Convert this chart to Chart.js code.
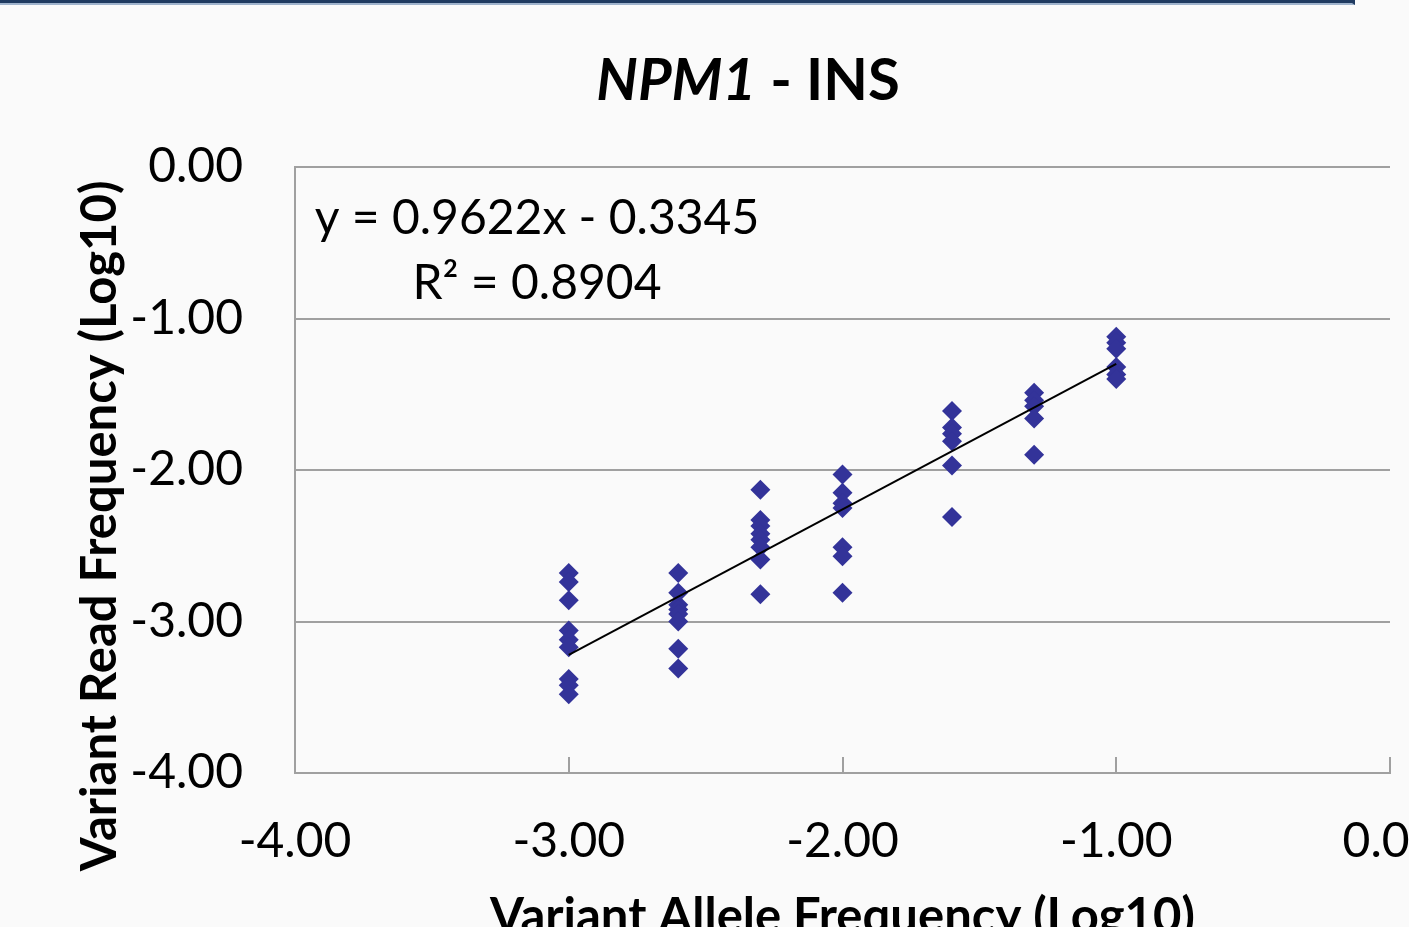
<!DOCTYPE html>
<html>
<head>
<meta charset="utf-8">
<title>NPM1 - INS</title>
<script src="https://cdn.jsdelivr.net/npm/chart.js@4.4.1/dist/chart.umd.min.js"></script>
<style>
  html, body { margin: 0; padding: 0; background: #fafafa; overflow: hidden; }
  #wrap { position: relative; width: 1409px; height: 927px; overflow: hidden; }
  #topbar { position: absolute; left: 0; top: 0; width: 1352px; height: 3px;
            background: #1f3a60; border-bottom: 2px solid #9fb3cc; border-right: 3px solid #1f3a60; }
  canvas { position: absolute; left: 0; top: 0; }
</style>
</head>
<body>
<div id="wrap">
  <div id="topbar"></div>
  <canvas id="npm1-chart" width="1409" height="980"></canvas>
</div>
<script>
// Variant allele frequency levels (log10) -> x positions
const vafLevels = [-3.00, -2.60, -2.30, -2.00, -1.60, -1.30, -1.00];

// Variant read frequency (log10) measured at each level
const vrfAtM300 = [-2.68, -2.74, -2.86, -3.06, -3.12, -3.17, -3.38, -3.42, -3.48];
const vrfAtM260 = [-2.68, -2.81, -2.89, -2.92, -2.95, -3.00, -3.18, -3.31];
const vrfAtM230 = [-2.13, -2.33, -2.37, -2.42, -2.46, -2.51, -2.59, -2.82];
const vrfAtM200 = [-2.03, -2.15, -2.22, -2.25, -2.51, -2.57, -2.81];
const vrfAtM160 = [-1.61, -1.72, -1.76, -1.81, -1.97, -2.31];
const vrfAtM130 = [-1.49, -1.54, -1.58, -1.66, -1.90];
const vrfAtM100 = [-1.12, -1.16, -1.20, -1.32, -1.37, -1.40];

// Linear trend line ends
const trendX = [-3.00, -1.00];
const trendY = [-3.22, -1.30];

// Axis ticks
const axisTicks = [-4, -3, -2, -1, 0];

const vrfGroups = [vrfAtM300, vrfAtM260, vrfAtM230, vrfAtM200, vrfAtM160, vrfAtM130, vrfAtM100];
const scatterPoints = [];
vafLevels.forEach((x, i) => {
    vrfGroups[i].forEach(y => scatterPoints.push({ x: x, y: y }));
});

Chart.defaults.font.family = 'Lato';
Chart.defaults.color = '#000';

const GRID = '#a0a0a0';

// Excel style "inside" tick marks on the x axis
const insideTicks = {
    id: 'insideTicks',
    afterDatasetsDraw(chart) {
        const { ctx, scales: { x }, chartArea } = chart;
        ctx.save();
        ctx.strokeStyle = GRID;
        ctx.lineWidth = 2;
        axisTicks.forEach(t => {
            if (t === axisTicks[0]) return;
            const px = Math.round(x.getPixelForValue(t));
            ctx.beginPath();
            ctx.moveTo(px, chartArea.bottom - 16);
            ctx.lineTo(px, chartArea.bottom);
            ctx.stroke();
        });
        ctx.restore();
    }
};

// Title, y axis title and regression label
const overlayText = {
    id: 'overlayText',
    afterDraw(chart) {
        const { ctx } = chart;
        ctx.save();
        ctx.fillStyle = '#000';
        ctx.textBaseline = 'middle';

        // main title, gene name in italics
        const italic = 'italic bold 58px Lato';
        const plain = 'bold 58px Lato';
        ctx.font = italic;
        const w1 = ctx.measureText('NPM1').width;
        ctx.font = plain;
        const w2 = ctx.measureText(' - INS').width;
        let tx = 748 - (w1 + w2) / 2;
        ctx.textAlign = 'left';
        ctx.font = italic;
        ctx.fillText('NPM1', tx, 81);
        ctx.font = plain;
        ctx.fillText(' - INS', tx + w1, 81);

        // regression equation
        ctx.font = '48px Lato';
        ctx.textAlign = 'center';
        ctx.fillText('y = 0.9622x - 0.3345', 537, 219);
        ctx.fillText('R\u00B2 = 0.8904', 537, 284);

        // y axis title
        ctx.translate(100, 526);
        ctx.rotate(-Math.PI / 2);
        ctx.font = 'bold 49px Lato';
        ctx.fillText('Variant Read Frequency (Log10)', 0, 0);
        ctx.restore();
    }
};

new Chart(document.getElementById('npm1-chart'), {
    type: 'scatter',
    data: {
        datasets: [
            {
                type: 'line',
                label: 'Linear trend',
                data: trendX.map((x, i) => ({ x: x, y: trendY[i] })),
                borderColor: '#000',
                borderWidth: 2,
                pointRadius: 0,
                fill: false,
                tension: 0,
            },
            {
                label: 'NPM1 - INS',
                data: scatterPoints,
                pointStyle: 'rectRot',
                pointRadius: 10,
                backgroundColor: '#333399',
                borderWidth: 0,
            },
        ],
    },
    options: {
        responsive: false,
        animation: false,
        layout: {
            padding: { top: 167, right: 19, left: 0, bottom: 0 },
        },
        plugins: {
            legend: { display: false },
            tooltip: { enabled: false },
        },
        scales: {
            x: {
                type: 'linear',
                min: -4,
                max: 0,
                afterBuildTicks: s => { s.ticks = axisTicks.map(v => ({ value: v })); },
                ticks: {
                    callback: v => v.toFixed(2),
                    font: { size: 48 },
                    color: '#000',
                    padding: 40,
                },
                grid: { drawOnChartArea: false, drawTicks: false },
                border: { color: GRID, width: 2 },
                title: {
                    display: true,
                    text: 'Variant Allele Frequency (Log10)',
                    font: { size: 49, weight: 'bold' },
                    color: '#000',
                    padding: { top: 0, bottom: 33 },
                },
                afterFit: s => {
                    s.paddingLeft = 0;
                    s.paddingRight = 0;
                    s.height = 207;
                },
            },
            y: {
                min: -4,
                max: 0,
                afterBuildTicks: s => { s.ticks = axisTicks.map(v => ({ value: v })); },
                ticks: {
                    callback: v => v.toFixed(2),
                    font: { size: 48 },
                    color: '#000',
                    padding: 52,
                },
                grid: { color: GRID, lineWidth: 2, drawTicks: false },
                border: { color: GRID, width: 2 },
                afterFit: s => {
                    s.paddingTop = 0;
                    s.paddingBottom = 0;
                    s.width = 295;
                },
            },
        },
    },
    plugins: [insideTicks, overlayText],
});
</script>
</body>
</html>
